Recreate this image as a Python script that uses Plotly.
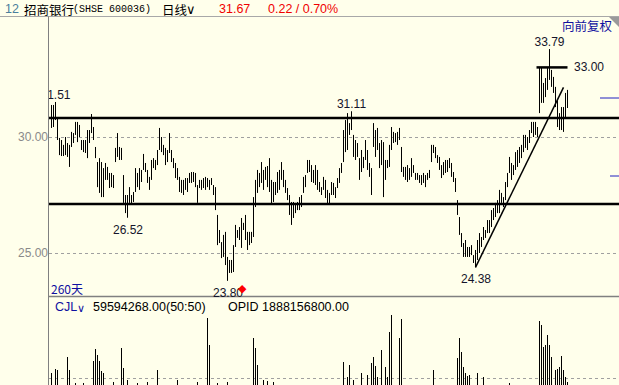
import plotly.graph_objects as go

W, H = 619, 385

# ---------------- data ----------------
highs = [
    31.38, 31.38, 31.51, 30.82, 29.96, 29.87, 29.66, 30.00, 29.74, 29.66,
    30.22, 30.17, 30.65, 30.65, 30.52, 29.87, 29.87, 29.87, 30.30, 30.30,
    30.99, 30.43, 29.57, 28.92, 29.09, 28.92, 28.66, 28.88, 28.71, 28.45,
    28.45, 28.36, 29.53, 30.17, 29.57, 29.53, 28.36, 27.50, 27.50, 27.84,
    27.50, 27.63, 28.66, 28.45, 28.66, 28.58, 29.27, 28.88, 28.58, 28.28,
    29.01, 29.09, 29.01, 29.44, 30.39, 30.00, 29.66, 29.53, 29.44, 30.17,
    29.44, 29.09, 28.88, 28.66, 28.28, 28.15, 28.15, 28.23, 28.23, 28.45,
    28.49, 28.49, 28.45, 27.93, 28.15,
    28.15, 28.23, 28.28, 28.23, 28.15, 28.23, 27.93, 27.84, 26.64, 25.99,
    25.47, 25.78, 25.91, 24.83, 24.70, 24.70, 25.34, 26.21, 25.99, 26.12,
    26.51, 26.30, 26.64, 25.91, 25.91, 25.91, 27.41, 28.15, 28.58, 28.45,
    28.92, 28.58, 28.71, 28.75, 29.09, 28.15, 28.06, 28.06, 28.49, 28.58,
    28.92, 28.58, 28.15, 27.80, 27.50, 27.20, 27.20, 27.16, 27.20, 27.41,
    27.50, 28.28, 28.36, 29.01, 29.01, 28.79, 28.58, 28.79, 28.58, 28.06,
    27.84, 28.28, 28.15, 27.72, 27.59, 28.06, 28.02, 27.84, 28.23, 28.66,
    28.88, 30.30, 30.73, 31.03, 30.60, 31.11, 30.09, 29.87, 29.74, 29.09,
    29.44, 29.14, 29.87, 29.44, 28.88, 28.66, 30.60, 30.30, 30.39, 29.74,
    29.87, 29.78, 29.01, 29.01, 29.66, 30.43, 30.22, 30.17, 30.22, 30.39,
    29.57, 28.71, 28.71, 28.79, 28.66, 29.09, 28.79, 28.45, 28.45, 28.36,
    28.36, 28.45, 28.36, 28.45, 28.58, 29.66, 29.66, 29.57, 29.22, 29.14,
    28.79, 28.92, 29.01, 29.01, 29.09,
    28.88, 28.49, 28.23, 27.28, 26.55, 25.86, 25.43, 25.56, 25.26, 25.26,
    25.34, 24.91, 25.13, 25.56, 25.86, 25.69, 26.12, 25.99, 26.42, 26.42,
    26.85, 26.94, 27.16, 27.28, 27.72, 27.59, 27.41, 28.06, 28.45, 29.14,
    28.88, 28.79, 29.35, 29.44, 29.57, 29.66, 30.09, 30.09, 30.00, 30.30,
    30.65, 30.65, 30.65, 30.43, 33.02, 33.02, 32.33, 32.54, 32.97, 33.79,
    32.89, 32.59, 32.16, 31.59, 31.03, 31.29, 31.29, 31.90, 32.03,
]
lows = [
    30.39, 30.43, 30.73, 29.87, 29.22, 29.18, 29.18, 29.22, 29.14, 28.71,
    29.57, 29.74, 30.09, 29.78, 30.00, 29.44, 29.35, 29.31, 29.09, 29.74,
    30.17, 29.87, 29.09, 27.84, 27.59, 27.41, 27.41, 28.15, 28.15, 27.80,
    27.84, 27.80, 28.92, 29.14, 29.01, 29.01, 27.16, 26.72, 26.52, 27.16,
    27.07, 27.20, 27.63, 27.84, 27.72, 28.06, 28.58, 28.49, 28.02, 27.72,
    28.15, 28.66, 28.58, 28.79, 29.44, 29.35, 29.22, 28.79, 28.92, 29.31,
    28.92, 28.66, 28.23, 28.15, 27.63, 27.59, 27.50, 27.72, 27.63, 28.02,
    28.02, 28.06, 27.84, 27.16, 27.80,
    27.72, 27.80, 27.72, 27.84, 27.72, 27.93, 27.50, 26.85, 25.34, 25.43,
    24.78, 24.83, 24.48, 23.80, 24.14, 24.14, 24.18, 25.26, 25.65, 25.56,
    25.22, 25.99, 25.56, 25.13, 25.34, 25.43, 25.69, 26.98, 27.59, 27.84,
    28.02, 27.72, 28.15, 27.84, 27.63, 27.07, 27.20, 27.50, 27.59, 27.72,
    28.15, 27.84, 27.59, 27.28, 26.64, 26.21, 26.51, 26.72, 26.85, 26.85,
    26.98, 27.59, 27.84, 28.45, 28.49, 28.06, 28.02, 27.93, 27.72, 27.63,
    27.50, 27.72, 27.37, 27.07, 27.07, 27.50, 27.50, 27.37, 27.80, 28.02,
    28.45, 28.92, 29.35, 29.44, 30.09, 30.30, 29.14, 29.01, 29.14, 28.15,
    28.49, 28.66, 29.01, 28.58, 28.28, 27.50, 29.57, 29.14, 29.44, 28.66,
    28.79, 27.41, 28.15, 28.66, 28.71, 29.44, 29.74, 29.78, 29.66, 29.87,
    28.49, 28.28, 28.15, 28.06, 28.15, 28.28, 28.45, 28.15, 28.15, 28.02,
    27.93, 28.02, 27.84, 28.15, 28.23, 28.92, 29.31, 29.09, 28.88, 28.58,
    28.23, 28.36, 28.45, 28.49, 28.66,
    28.28, 28.06, 27.63, 26.64, 25.78, 25.26, 24.83, 24.83, 24.83, 24.83,
    24.91, 24.57, 24.38, 24.70, 25.00, 25.26, 25.56, 25.65, 25.86, 25.86,
    26.12, 26.42, 26.55, 26.72, 26.72, 27.16, 26.98, 27.28, 27.84, 28.45,
    28.15, 28.36, 28.58, 28.71, 28.88, 29.09, 29.35, 29.53, 29.44, 29.74,
    30.17, 30.00, 30.09, 30.00, 31.03, 31.47, 31.47, 31.72, 32.03, 32.46,
    32.16, 31.90, 31.29, 30.43, 30.30, 30.30, 30.22, 30.86, 31.25,
]
# volume in 万股
volumes = [
    6800, 5200, 7200, 7100, 4800, 4500, 5100, 4300, 8400, 7100,
    4600, 4900, 5800, 4400, 4100, 4700, 5800, 4200, 3900, 4500,
    5300, 8000, 9200, 8600, 8000, 7000, 6800, 5000, 4400, 4600,
    4300, 5900, 4800, 4200, 5100, 9300, 7300, 4900, 6100, 5200,
    4500, 4100, 4300, 5800, 4700, 4000, 3800, 4400, 5900, 4600,
    4200, 4500, 5000, 7100, 4800, 4300, 4100, 3900, 4000, 4400,
    4200, 3800, 4500, 6100, 4300, 4000, 3700, 3900, 4100, 4200,
    3800, 3600, 4000, 5900, 4400, 4700, 4300, 5200, 12300, 9600,
    5400, 5000, 4600, 5800, 4900, 4500, 4300, 4800, 5900, 4600,
    4200, 4000, 4400, 4700, 4100, 3900, 4300, 4600, 4200, 5000,
    5400, 10300, 9300, 7600, 5300, 5100, 6100, 4800, 6000, 4600,
    4400, 5900, 4300, 4100, 4000, 4500, 4200, 3900, 4100, 4400,
    4700, 4300, 4000, 3800, 3900, 4200, 4400, 4600, 4100, 3900,
    4000, 4300, 4500, 4200, 3800, 3700, 4000, 4400, 4600, 4300,
    4100, 4000, 4200, 4500, 5000, 5400, 7900, 5200, 6400, 7600,
    5300, 6100, 5000, 4700, 5200, 6800, 5100, 4900, 6600, 5400,
    7800, 8400, 7500, 6400, 5500, 9100, 5200, 7400, 6400, 10900,
    12600, 5400, 4800, 5000, 10300, 12200, 5300, 4600, 4300, 4500,
    4200, 4000, 4400, 4100, 3900, 3800, 4000, 4200, 3900, 4300,
    4500, 7100, 4800, 4400, 4200, 4100, 4300, 4000, 4200, 4500,
    4600, 4900, 5300, 8300, 10300, 8900, 7400, 6800, 6500, 6600,
    5400, 5100, 5000, 6800, 5200, 4800, 6400, 5100, 4700, 4500,
    4600, 4400, 4800, 4500, 4300, 4700, 4900, 4600, 4500, 5800,
    5000, 4700, 4900, 5200, 5000, 5300, 5100, 5400, 5300, 5500,
    5200, 5400, 5300, 5500, 12000, 11600, 9400, 9600, 10600, 9600,
    8400, 5500, 7100, 7200, 7400, 8500, 7100, 6400, 5900,
]

support_levels = [30.82, 27.11]
level_33 = 33.00
level_33_bars = [243.5, 259]
trend_points = [(213, 24.38), (257, 32.14)]
high_label_bars = [3, 151, 250]
low_label_bars = [39, 89, 213]
price_ticks = [25.0, 30.0]
volume_ticks = [6300]

header_code = "12"
header_name = "招商银行"
header_symbol = "(SHSE 600036)"
header_period = "日线"
header_last = "31.67"
header_change = "0.22 / 0.70%"
adj_label = "向前复权"
days_label = "260天"
vol_name = "CJL"
vol_value = "59594268.00(50:50)"
opid_text = "OPID 1888156800.00"

# ---------------- styling helpers ----------------
BG = "#FFFFEB"
NUMFONT = "Liberation Sans, Arial, sans-serif"
CJK = "Noto Sans CJK SC, sans-serif"
BLUE = "#1010A0"
RED = "#F00000"
GRAY = "#8a8a8a"
LABEL = "#14142a"


def px(x):
    return x / W


def py(y):
    return 1 - y / H


fig = go.Figure()

# price bars (high-low lines)
bx, by = [], []
for i, (h, l) in enumerate(zip(highs, lows), start=1):
    bx += [i, i, None]
    by += [l, h, None]
fig.add_trace(go.Scatter(x=bx, y=by, mode="lines",
                         line=dict(color="#000000", width=1),
                         hoverinfo="skip", xaxis="x", yaxis="y"))

# volume bars
vx, vy = [], []
for i, v in enumerate(volumes, start=1):
    vx += [i, i, None]
    vy += [0, v, None]
fig.add_trace(go.Scatter(x=vx, y=vy, mode="lines",
                         line=dict(color="#000000", width=1),
                         hoverinfo="skip", xaxis="x", yaxis="y2"))

# high price labels (scatter text so the first one is clipped by the axis)
lab_font = dict(family=NUMFONT, size=12, color=LABEL)
fig.add_trace(go.Scatter(
    x=high_label_bars, y=[highs[i - 1] for i in high_label_bars],
    text=[f"{highs[i - 1]:.2f}" for i in high_label_bars],
    mode="text", textposition="top center", textfont=lab_font,
    cliponaxis=True, hoverinfo="skip", xaxis="x", yaxis="y"))

shapes = []
line_gray = "#808080"
# frame lines
shapes.append(dict(type="line", xref="paper", yref="paper", x0=0, x1=1,
                   y0=py(16.5), y1=py(16.5), line=dict(color="#a8a8a8", width=1)))
shapes.append(dict(type="line", xref="paper", yref="paper", x0=px(48.5), x1=px(48.5),
                   y0=py(16.5), y1=0, line=dict(color=line_gray, width=1)))
shapes.append(dict(type="line", xref="paper", yref="paper", x0=px(48.5), x1=1,
                   y0=py(296.5), y1=py(296.5), line=dict(color=line_gray, width=1.5)))
# support / resistance lines
for lv in support_levels:
    shapes.append(dict(type="line", xref="paper", yref="y", x0=px(49), x1=1,
                       y0=lv, y1=lv, line=dict(color="#000000", width=2.5)))
shapes.append(dict(type="line", xref="x", yref="y", x0=level_33_bars[0], x1=level_33_bars[1],
                   y0=level_33, y1=level_33, line=dict(color="#000000", width=2.5)))
# trend line
shapes.append(dict(type="line", xref="x", yref="y",
                   x0=trend_points[0][0], y0=trend_points[0][1],
                   x1=trend_points[1][0], y1=trend_points[1][1],
                   line=dict(color="#000000", width=1.5)))
# right side blue marks
shapes.append(dict(type="line", xref="paper", yref="paper", x0=px(600), x1=1,
                   y0=py(98), y1=py(98), line=dict(color="#2020C0", width=1)))
shapes.append(dict(type="line", xref="paper", yref="paper", x0=px(610), x1=1,
                   y0=py(176), y1=py(176), line=dict(color="#2020C0", width=1)))
# corner triangle
shapes.append(dict(type="path", xref="paper", yref="paper",
                   path=f"M {px(609)} {py(17)} L {px(619)} {py(17)} L {px(619)} {py(27)} Z",
                   fillcolor="#9a9a9a", line=dict(width=0)))

annotations = []


def note(text, x, y, color="#000000", size=12, family=NUMFONT, anchor="left"):
    annotations.append(dict(text=text, x=px(x), y=py(y), xref="paper", yref="paper",
                            xanchor=anchor, yanchor="middle", showarrow=False,
                            font=dict(color=color, size=size, family=family)))


note(header_code, 3, 9, color="#4a7e9c", size=12.5)
note(header_name, 22, 9, family=CJK, size=12.5)
note(header_symbol, 71, 9, family="Liberation Mono, monospace", size=10)
note(header_period, 160, 9, family=CJK, size=12.5)
note("∨", 184, 9, family="DejaVu Sans", size=13)
note(header_last, 217, 9, color=RED, size=12.5)
note(header_change, 266, 9, color=RED, size=12.5)
note(adj_label, 560, 25, color=BLUE, family=CJK, size=12.5)
note(days_label, 49, 288, color=BLUE, family=CJK)
note(vol_name, 53, 307, color=BLUE, size=12.5)
note("∨", 75, 308, color=BLUE, family="DejaVu Sans", size=11)
note(vol_value, 91, 307, size=12.5)
note(opid_text, 226, 307, size=12.5)

# low price labels
for b in low_label_bars:
    annotations.append(dict(text=f"{lows[b - 1]:.2f}", x=b, y=lows[b - 1],
                            xref="x", yref="y", xanchor="center", yanchor="top",
                            yshift=-3, showarrow=False, font=lab_font))

# 33.00 level label
annotations.append(dict(text=f"{level_33:.2f}", x=level_33_bars[1], y=level_33,
                        xref="x", yref="y", xanchor="left", yanchor="middle",
                        xshift=4, showarrow=False, font=lab_font))
# red signal diamond next to the lowest low
low_bar = low_label_bars[1]
annotations.append(dict(text="◆", x=low_bar, y=lows[low_bar - 1], xref="x", yref="y",
                        xanchor="center", yanchor="middle", xshift=15, yshift=-8,
                        showarrow=False, font=dict(color="#FF0000", size=11, family="DejaVu Sans")))

axis_font = dict(family=NUMFONT, size=12, color=GRAY)
fig.update_layout(
    width=W, height=H,
    margin=dict(l=0, r=0, t=0, b=0, pad=0),
    paper_bgcolor=BG, plot_bgcolor=BG,
    showlegend=False,
    shapes=shapes, annotations=annotations,
    xaxis=dict(domain=[px(49), 1], range=[-0.25, 284.75], visible=False, fixedrange=True),
    yaxis=dict(domain=[py(297), py(18)], range=[23.1034, 35.1293],
               tickvals=price_ticks, ticktext=[f"{t:.2f}" for t in price_ticks],
               showgrid=True, gridcolor="#a0a0a0", griddash="dot", gridwidth=1,
               zeroline=False, showline=False, ticks="", tickfont=axis_font,
               anchor="x", fixedrange=True),
    yaxis2=dict(domain=[0, py(297)], range=[5600, 14400],
                tickvals=volume_ticks, ticktext=[f"{t}万" for t in volume_ticks],
                showgrid=True, gridcolor="#a0a0a0", griddash="dot", gridwidth=1,
                zeroline=False, showline=False, ticks="", tickfont=axis_font,
                anchor="x", fixedrange=True),
)

fig.write_html("out.html", config={"displayModeBar": False})
